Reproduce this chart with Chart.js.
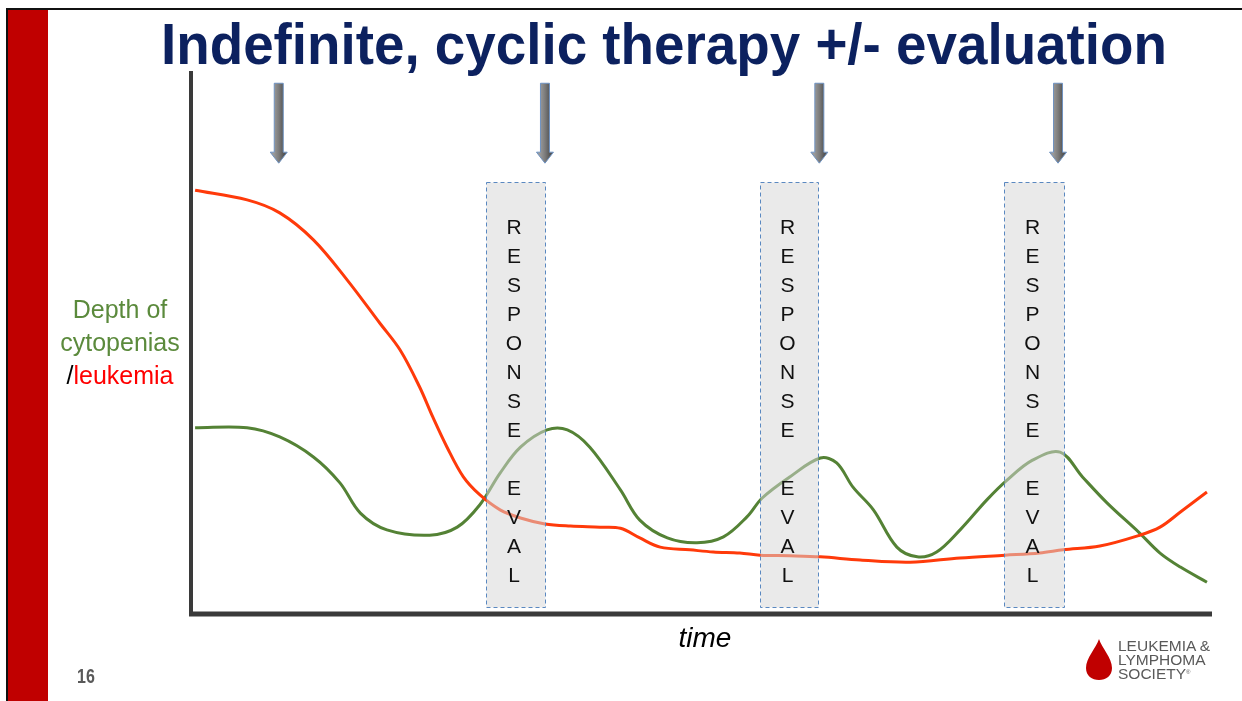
<!DOCTYPE html>
<html>
<head>
<meta charset="utf-8">
<script src="https://cdn.jsdelivr.net/npm/chart.js@4.4.1/dist/chart.umd.min.js"></script>
<style>
  html, body { margin: 0; padding: 0; background: #fff; }
  #slide { position: relative; width: 1242px; height: 701px; overflow: hidden; background: #fff;
           font-family: "Liberation Sans", Arial, sans-serif; }
  #chart { position: absolute; left: 0; top: 0; }
  .frameTop { position: absolute; left: 6px; top: 8px; width: 1236px; height: 2px; background: #111; }
  .frameLeft { position: absolute; left: 6px; top: 8px; width: 2px; height: 693px; background: #111; }
  .redBar { position: absolute; left: 8px; top: 10px; width: 40px; height: 691px; background: #c00000; }
  #title { position: absolute; left: 0; top: 11px; white-space: nowrap; font-weight: bold;
           font-size: 57px; color: #0c215f; transform-origin: 0 0; }
  .ylab { position: absolute; left: 40px; width: 160px; text-align: center; font-size: 25px;
          color: #5b8a3c; white-space: nowrap; }
  #timeLab { position: absolute; left: 605px; width: 200px; top: 622px; text-align: center;
             font-style: italic; font-size: 28px; color: #000; }
  #pageNo { position: absolute; left: 77px; top: 665px; font-weight: bold; font-size: 20px;
            color: #595959; transform: scaleX(0.8); transform-origin: 0 0; }
  #logo { position: absolute; left: 1086px; top: 638px; }
  #logoText { position: absolute; left: 1118px; top: 639px; font-size: 15.5px; line-height: 13.8px;
              color: #595959; white-space: nowrap; }
</style>
</head>
<body>
<div id="slide">
  <div class="redBar"></div>
  <div class="frameTop"></div>
  <div class="frameLeft"></div>
  <canvas id="chart" width="1242" height="701"></canvas>
  <div id="title">Indefinite, cyclic therapy +/- evaluation</div>
  <div class="ylab" style="top:295px">Depth of</div>
  <div class="ylab" style="top:328px">cytopenias</div>
  <div class="ylab" style="top:361px"><span style="color:#000">/</span><span style="color:#ff0000">leukemia</span></div>
  <div id="timeLab">time</div>
  <div id="pageNo">16</div>
  <svg id="logo" width="28" height="44" viewBox="0 0 28 44">
    <path d="M13 1 C 16 10, 26 20, 26 30 C 26 38, 20 42, 13 42 C 6 42, 0 38, 0 30 C 0 20, 10 10, 13 1 Z" fill="#c00000"/>
  </svg>
  <div id="logoText">LEUKEMIA &amp;<br>LYMPHOMA<br>SOCIETY<sup style="font-size:6px;vertical-align:top;position:relative;top:-1px">®</sup></div>
</div>
<script>
// Leukemia burden over time (red)
const leukemiaTime = [0.5, 5.6, 8.8, 12.1, 15.4, 18.6, 20.6, 22.5, 23.8, 25.2, 26.8, 28.4, 30.4, 32.4, 34.8,
  37.3, 40.2, 42.2, 44.1, 46.1, 49.0, 51.3, 53.9, 55.9, 58.8, 61.8, 65.7, 70.6, 75.5, 79.9, 83.3,
  85.6, 89.2, 93.1, 95.1, 97.1, 99.7];
const leukemiaLevel = [78.3, 76.5, 74.1, 69.1, 61.7, 53.7, 48.7, 41.9, 36.3, 30.7, 25.2, 21.9, 19.1, 17.6, 16.5,
  16.1, 15.9, 15.7, 13.9, 12.2, 11.7, 11.3, 11.1, 10.7, 10.6, 10.4, 9.8, 9.4, 10.2, 10.7, 11.1,
  11.7, 12.4, 14.4, 15.9, 18.7, 22.4];

// Depth of cytopenias over time (green)
const cytopeniaTime = [0.5, 5.6, 8.8, 12.1, 14.7, 16.7, 19.3, 23.5, 26.2, 28.4, 30.4, 32.4, 35.0, 37.0, 39.2,
  42.2, 44.1, 46.8, 49.7, 52.3, 54.6, 56.1, 58.8, 61.8, 63.4, 65.0, 67.0, 69.3, 71.3, 73.2, 75.5,
  78.1, 80.1, 82.6, 85.3, 87.5, 89.9, 93.1, 95.1, 97.1, 99.7];
const cytopeniaLevel = [34.3, 34.3, 32.6, 28.9, 24.1, 18.5, 15.4, 14.4, 15.9, 20.0, 25.9, 30.7, 33.9, 33.9, 30.7,
  22.8, 17.2, 13.9, 13.0, 14.1, 17.8, 21.3, 25.2, 28.7, 27.8, 23.3, 19.1, 12.2, 10.4, 11.3, 15.4,
  20.9, 24.6, 28.3, 29.8, 25.2, 20.4, 14.8, 11.1, 8.5, 5.7];

// Response evaluation windows [start, end] and therapy cycle starts (time units)
const evalStart = [29.0, 55.9, 79.8];
const evalEnd = [34.8, 61.6, 85.7];
const evalTop = 79.8;
const evalBottom = 1.1;
const evalLetters = ["R", "E", "S", "P", "O", "N", "S", "E", "", "E", "V", "A", "L"];
const therapyStarts = [8.7, 34.8, 61.7, 85.1];
const arrowTop = 98.1;
const arrowBottom = 83.3;

const toPoints = (xs, ys) => xs.map((x, i) => ({ x, y: ys[i] }));

const overlayPlugin = {
  id: 'overlay',
  afterDatasetsDraw(chart) {
    const { ctx, chartArea, scales } = chart;
    const xs = scales.x, ys = scales.y;
    ctx.save();

    // axes
    ctx.strokeStyle = '#3a3a3a';
    ctx.lineCap = 'butt';
    ctx.lineWidth = 4;
    ctx.beginPath();
    ctx.moveTo(chartArea.left + 1, chartArea.top - 2);
    ctx.lineTo(chartArea.left + 1, chartArea.bottom + 3);
    ctx.stroke();
    ctx.lineWidth = 5;
    ctx.beginPath();
    ctx.moveTo(chartArea.left - 1, chartArea.bottom + 1);
    ctx.lineTo(chartArea.right + 2, chartArea.bottom + 1);
    ctx.stroke();

    // evaluation windows
    for (let i = 0; i < evalStart.length; i++) {
      const x0 = Math.round(xs.getPixelForValue(evalStart[i])) + 0.5;
      const x1 = Math.round(xs.getPixelForValue(evalEnd[i])) + 0.5;
      const y0 = Math.round(ys.getPixelForValue(evalTop)) + 0.5;
      const y1 = Math.round(ys.getPixelForValue(evalBottom)) + 0.5;
      ctx.fillStyle = 'rgba(215,215,215,0.52)';
      ctx.fillRect(x0, y0, x1 - x0, y1 - y0);
      ctx.setLineDash([4, 3]);
      ctx.lineWidth = 1;
      ctx.strokeStyle = '#5a88c0';
      ctx.strokeRect(x0, y0, x1 - x0, y1 - y0);
      ctx.setLineDash([]);

      ctx.fillStyle = '#111';
      ctx.font = '21px "Liberation Sans", Arial, sans-serif';
      ctx.textAlign = 'center';
      ctx.textBaseline = 'middle';
      const cx = (x0 + x1) / 2 - 2;
      evalLetters.forEach((ch, k) => {
        if (ch) ctx.fillText(ch, cx, y0 + 46 + k * 29);
      });
    }

    // therapy cycle arrows
    therapyStarts.forEach(t => {
      const cx = xs.getPixelForValue(t);
      const top = ys.getPixelForValue(arrowTop);
      const tip = ys.getPixelForValue(arrowBottom);
      const headY = tip - 11;
      const g = ctx.createLinearGradient(cx - 5, 0, cx + 5, 0);
      g.addColorStop(0, '#9a9a9a');
      g.addColorStop(0.5, '#7c7c7c');
      g.addColorStop(1, '#555');
      ctx.beginPath();
      ctx.moveTo(cx - 4.5, top);
      ctx.lineTo(cx + 4.5, top);
      ctx.lineTo(cx + 4.5, headY);
      ctx.lineTo(cx + 8.5, headY);
      ctx.lineTo(cx, tip);
      ctx.lineTo(cx - 8.5, headY);
      ctx.lineTo(cx - 4.5, headY);
      ctx.closePath();
      ctx.fillStyle = g;
      ctx.fill();
      ctx.lineWidth = 1;
      ctx.strokeStyle = '#6f93c2';
      ctx.stroke();
    });
    ctx.restore();
  }
};

new Chart(document.getElementById('chart'), {
  type: 'line',
  data: {
    datasets: [
      { label: 'Leukemia', data: toPoints(leukemiaTime, leukemiaLevel), borderColor: '#ff3a0a',
        borderWidth: 3, pointRadius: 0, tension: 0.35, fill: false },
      { label: 'Cytopenias', data: toPoints(cytopeniaTime, cytopeniaLevel), borderColor: '#548235',
        borderWidth: 3, pointRadius: 0, tension: 0.35, fill: false }
    ]
  },
  options: {
    responsive: false,
    animation: false,
    devicePixelRatio: 1,
    layout: { padding: { left: 190, right: 32, top: 73, bottom: 88 } },
    plugins: { legend: { display: false }, tooltip: { enabled: false } },
    scales: {
      x: { type: 'linear', min: 0, max: 100, display: false },
      y: { min: 0, max: 100, display: false }
    }
  },
  plugins: [overlayPlugin]
});

// fit the title between its left and right edges
const title = document.getElementById('title');
const natural = title.offsetWidth;
const targetLeft = 161, targetWidth = 1006;
title.style.left = targetLeft + 'px';
title.style.transform = 'scaleX(' + (targetWidth / natural) + ')';
</script>
</body>
</html>
